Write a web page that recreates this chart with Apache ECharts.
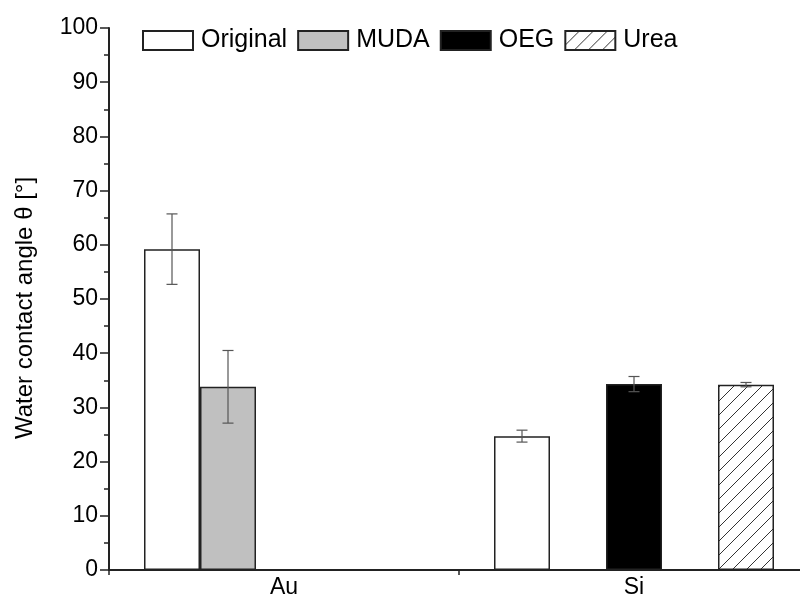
<!DOCTYPE html>
<html>
<head>
<meta charset="utf-8">
<script src="https://cdn.jsdelivr.net/npm/echarts@6/dist/echarts.min.js"></script>
<style>html,body{margin:0;padding:0;background:#fff;}#c{width:800px;height:597px;}</style>
</head>
<body>
<div id="c"></div>
<script>
const categories = ['Au', 'Si'];
const seriesNames = ['Original', 'MUDA', 'OEG', 'Urea'];
const originalVals = [59.2, 24.7];
const originalErr = [6.5, 1.1];
const mudaVals = [33.8, null];
const mudaErr = [6.7, null];
const oegVals = [null, 34.3];
const oegErr = [null, 1.4];
const ureaVals = [null, 34.2];
const ureaErr = [null, 0.4];
const yTicks = [0, 10, 20, 30, 40, 50, 60, 70, 80, 90, 100];

const FONT = 'Liberation Sans';
const chart = echarts.init(document.getElementById('c'));

// hatch pattern
const pc = document.createElement('canvas');
pc.width = 14; pc.height = 14;
const g = pc.getContext('2d');
g.fillStyle = '#fff'; g.fillRect(0, 0, 14, 14);
g.strokeStyle = '#333'; g.lineWidth = 1;
g.beginPath();
g.moveTo(0, 14); g.lineTo(14, 0);
g.moveTo(-7, 7); g.lineTo(7, -7);
g.moveTo(7, 21); g.lineTo(21, 7);
g.stroke();

const border = {borderColor: '#222', borderWidth: 1.5};
const SLOTS = 5;
function errSeries(vals, errs, slot) {
  return {
    type: 'custom',
    z: 5,
    silent: true,
    data: vals.map((v, i) => [i, v, errs[i]]),
    renderItem: function (params, api) {
      const v = api.value(1), e = api.value(2);
      if (v === null || isNaN(v) || e === null || isNaN(e)) return;
      const catW = api.size([1, 0])[0];
      const bw = catW * 0.8 / SLOTS;
      const off = (slot - (SLOTS - 1) / 2) * bw;
      const top = api.coord([api.value(0), v + e]);
      const bot = api.coord([api.value(0), v - e]);
      const cx = top[0] + off;
      const hw = 5.5;
      const st = {stroke: '#555', lineWidth: 1.2};
      return {
        type: 'group',
        children: [
          {type: 'line', shape: {x1: cx, y1: top[1], x2: cx, y2: bot[1]}, style: st},
          {type: 'line', shape: {x1: cx - hw, y1: top[1], x2: cx + hw, y2: top[1]}, style: st},
          {type: 'line', shape: {x1: cx - hw, y1: bot[1], x2: cx + hw, y2: bot[1]}, style: st}
        ]
      };
    }
  };
}

const option = {
  animation: false,
  backgroundColor: '#fff',
  textStyle: {fontFamily: FONT},
  grid: {left: 109, top: 28, width: 700, height: 542, containLabel: false, outerBoundsMode: 'none'},
  legend: {
    data: seriesNames,
    left: 137, top: 23,
    itemWidth: 50, itemHeight: 19, itemGap: 10,
    icon: 'rect',
    textStyle: {fontFamily: FONT, fontSize: 25, color: '#000', padding: [0, 0, 0, 3]}
  },
  xAxis: {
    type: 'category',
    data: categories,
    axisLine: {lineStyle: {color: '#222', width: 2}},
    axisTick: {show: true, length: 5, lineStyle: {color: '#222', width: 1.5}},
    axisLabel: {fontFamily: FONT, fontSize: 23, color: '#000', margin: 6}
  },
  yAxis: {
    type: 'value',
    min: 0, max: 100, interval: 10,
    name: 'Water contact angle θ [°]',
    nameLocation: 'middle',
    nameGap: 72,
    nameTextStyle: {fontFamily: FONT, fontSize: 24, color: '#000', padding: [0, 18, 0, 0]},
    axisLine: {show: true, lineStyle: {color: '#222', width: 2}},
    axisTick: {show: true, length: 9, lineStyle: {color: '#222', width: 1.5}},
    minorTick: {show: true, splitNumber: 2, length: 5, lineStyle: {color: '#222', width: 1.5}},
    splitLine: {show: false},
    axisLabel: {fontFamily: FONT, fontSize: 23, color: '#000', margin: 11,
      formatter: v => yTicks.includes(v) ? String(v) : ''}
  },
  series: [
    {name: 'Original', type: 'bar', data: originalVals, barGap: '0%', barCategoryGap: '20%',
     itemStyle: Object.assign({color: '#fff'}, border)},
    {name: 'MUDA', type: 'bar', data: mudaVals, itemStyle: Object.assign({color: '#c0c0c0'}, border)},
    {name: 'OEG', type: 'bar', data: oegVals, itemStyle: Object.assign({color: '#000'}, border)},
    {name: '_blank', type: 'bar', data: [null, null]},
    {name: 'Urea', type: 'bar', data: ureaVals,
     itemStyle: Object.assign({color: {image: pc, repeat: 'repeat'}}, border)},
    errSeries(originalVals, originalErr, 0),
    errSeries(mudaVals, mudaErr, 1),
    errSeries(oegVals, oegErr, 2),
    errSeries(ureaVals, ureaErr, 4)
  ]
};
chart.setOption(option);
</script>
</body>
</html>
